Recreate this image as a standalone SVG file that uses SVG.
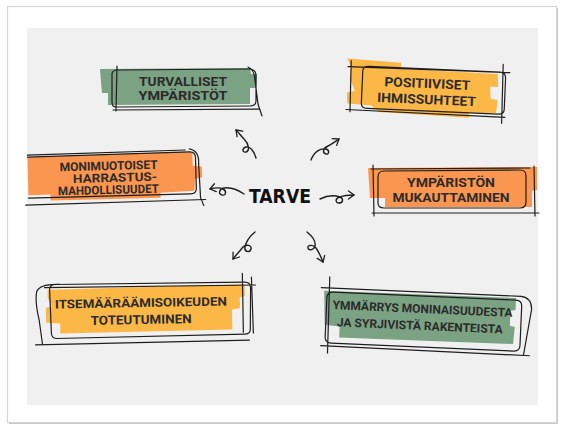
<svg xmlns="http://www.w3.org/2000/svg" width="565" height="433" viewBox="0 0 565 433">
<defs>
<marker id="ah" viewBox="-7 -5 8 10" refX="0" refY="0" markerWidth="8" markerHeight="10" markerUnits="userSpaceOnUse" orient="auto">
<path d="M-5.5,-4 L0,0 L-5.5,4" fill="none" stroke="#1e1e1e" stroke-width="1.3" stroke-linecap="round" stroke-linejoin="round"/>
</marker>
</defs>
<style>
.sk{fill:none;stroke:#1e1e1e;stroke-width:1.2;stroke-linecap:round;stroke-linejoin:round}
.ar{fill:none;stroke:#1e1e1e;stroke-width:1.4;stroke-linecap:round;marker-end:url(#ah)}
.t{font-family:Roboto,"Liberation Sans",sans-serif;font-weight:700;fill:#2b2b2b;text-anchor:middle}
.g{fill:#7ba283}.o{fill:#fb9650}.y{fill:#fbb847}
</style>
<rect x="9" y="8" width="549" height="416" fill="#c8c8c8"/>
<rect x="7.5" y="6.5" width="549" height="416" fill="#ffffff" stroke="#d6d6d6" stroke-width="1.2"/>
<rect x="27" y="28" width="511" height="377" fill="#f0f0f0"/>

<g id="connectors">
<path class="ar" d="M244,194 C238,190 230,187 224,188 C219,189 218,194 222,195 C226,196 227,191 223,189 C219,187 214,188 210,189"/>
<path class="ar" d="M320,199 C326,196 334,195 340,197 C344,199 343,203 339,203 C335,203 335,198 340,197 C345,195 350,195 354,195"/>
<path class="ar" d="M256,158 C254,151 250,146 246,147 C242,148 242,153 246,152 C250,151 249,144 244,139 C241,136 239,133 236,130"/>
<path class="ar" d="M311,160 C314,152 320,148 326,149 C330,150 329,155 326,154 C322,153 323,148 328,146 C332,144 336,141 339,139"/>
<path class="ar" d="M255,232 C250,236 246,242 245,247 C244,252 250,253 251,249 C252,245 246,244 243,247 C240,251 236,255 233,259"/>
<path class="ar" d="M307,232 C312,236 316,241 315,246 C314,250 309,251 308,248 C307,245 313,244 316,248 C319,252 321,257 323,262"/>
</g>

<g id="center">
<text x="280" y="203" font-family="'DejaVu Sans Condensed','DejaVu Sans',sans-serif" font-weight="700" font-size="20" fill="#111" text-anchor="middle" textLength="62" lengthAdjust="spacingAndGlyphs">TARVE</text>
</g>

<g id="n1">
<path class="g" d="M100,69 L250,68 L251,74 L257,74 L256,88 L250,88 L250,104 L108,105 L108,93 L102,93 L101,82 Z"/>
<path class="sk" d="M117,66 L116,111 M112,74 Q112,70 118,70 L249,69 Q256,69 256,76 L256,101 Q256,106 250,106 L116,107 Q112,107 112,102 Z M113,110 L260,109 M248,67 Q254,69 255,80 L258,104 L262,116"/>
<text class="t" x="183" y="86" font-size="13" textLength="88" lengthAdjust="spacingAndGlyphs">TURVALLISET</text>
<text class="t" x="183" y="100" font-size="13" textLength="89" lengthAdjust="spacingAndGlyphs">YMPÄRISTÖT</text>
</g>

<g id="n2" transform="rotate(2.5 427 90)">
<path class="y" d="M346,62 L400,64 L400,70 L497,71 L498,84 L490,84 L491,96 L498,97 L497,110 L470,111 L470,116 L380,114 L372,108 L348,107 L347,96 L355,94 L350,83 L350,70 Z"/>
<path class="sk" d="M350,64 L351,115 M362,74 Q362,69 368,69 L499,69 Q505,69 505,75 L505,106 Q505,111 499,111 L368,111 Q362,111 362,106 Z M347,70 L509,69 M347,113 L506,114 M502,61 L503,120"/>
<text class="t" x="427" y="88" font-size="13" textLength="86" lengthAdjust="spacingAndGlyphs">POSITIIVISET</text>
<text class="t" x="427" y="104" font-size="13" textLength="99" lengthAdjust="spacingAndGlyphs">IHMISSUHTEET</text>
</g>

<g id="n3" transform="rotate(-1.5 110 178)">
<path class="o" d="M28,155 L193,154 L193,168 L202,169 L202,180 L195,181 L194,193 L160,194 L160,199 L50,199 L50,193 L28,193 Z"/>
<path class="sk" d="M28,155 L190,154 Q196,154 196,160 L196,191 Q196,196 190,196 L28,196 M25,203 L205,202 M190,151 Q200,153 199,166 L200,200 L203,208 M28,153 L186,152"/>
<text class="t" x="109" y="170" font-size="12" textLength="98" lengthAdjust="spacingAndGlyphs">MONIMUOTOISET</text>
<text class="t" x="115" y="182" font-size="12" textLength="84" lengthAdjust="spacingAndGlyphs">HARRASTUS-</text>
<text class="t" x="108" y="194" font-size="12" textLength="101" lengthAdjust="spacingAndGlyphs">MAHDOLLISUUDET</text>
</g>

<g id="n4">
<path class="o" d="M368,168 L537,167 L537,190 L532,191 L532,207 L385,207 L385,198 L370,198 Z"/>
<path class="sk" d="M378,177 Q378,171 384,171 L520,170 Q526,170 526,176 L526,202 Q526,208 520,208 L384,208 Q378,208 378,203 Z M373,165 L374,216 M372,213 L539,213 M534,166 L535,216 M371,169 L530,168"/>
<text class="t" x="451" y="187" font-size="13" textLength="88" lengthAdjust="spacingAndGlyphs">YMPÄRISTÖN</text>
<text class="t" x="451" y="202" font-size="13" textLength="117" lengthAdjust="spacingAndGlyphs">MUKAUTTAMINEN</text>
</g>

<g id="n5" transform="rotate(-1 141 312)">
<path class="y" d="M48,288 L245,286 L245,298 L240,299 L240,310 L232,311 L232,331 L60,332 L60,322 L46,321 L46,306 L52,305 L48,296 Z"/>
<path class="sk" d="M60,283 Q40,282 37,290 Q35,300 39,318 L42,343 M50,288 Q50,283 56,283 L245,284 Q251,284 251,290 L250,331 Q250,336 244,336 L56,337 Q51,337 51,331 Z M35,343 L249,342 M243,275 L243,334 M252,279 L253,335 M45,286 L256,287"/>
<text class="t" x="141" y="307" font-size="12" textLength="172" lengthAdjust="spacingAndGlyphs">ITSEMÄÄRÄÄMISOIKEUDEN</text>
<text class="t" x="141" y="324" font-size="12.5" textLength="101" lengthAdjust="spacingAndGlyphs">TOTEUTUMINEN</text>
</g>

<g id="n6" transform="rotate(2.5 422 320)">
<path class="g" d="M323,295 L515,294 L515,306 L510,307 L510,322 L515,323 L514,340 L340,341 L340,330 L325,329 Z"/>
<path class="sk" d="M326,302 Q326,296 332,296 L515,296 Q521,296 521,302 L521,341 Q521,347 515,347 L332,347 Q326,347 326,341 Z M320,292 L520,292 Q531,293 531,305 L525,350 M322,350 L531,351 M328,281 L329,357"/>
<text class="t" x="422" y="313" font-size="12" textLength="180" lengthAdjust="spacingAndGlyphs">YMMÄRRYS MONINAISUUDESTA</text>
<text class="t" x="420" y="330" font-size="12" textLength="166" lengthAdjust="spacingAndGlyphs">JA SYRJIVISTÄ RAKENTEISTA</text>
</g>
</svg>
